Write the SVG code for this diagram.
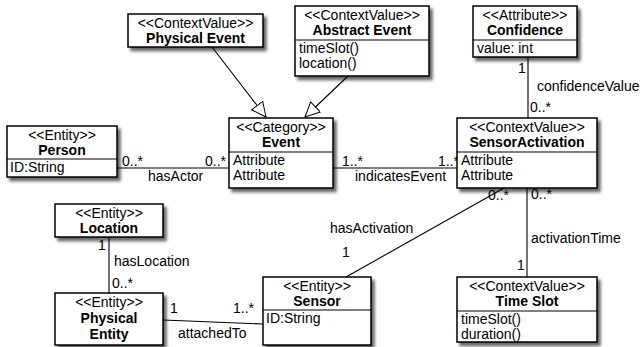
<svg xmlns="http://www.w3.org/2000/svg" width="642" height="347" viewBox="0 0 642 347">
  <defs>
    <filter id="shadow" x="-10%" y="-10%" width="130%" height="140%">
      <feDropShadow dx="3" dy="3.5" stdDeviation="1.8" flood-color="#000" flood-opacity="0.6"/>
    </filter>
    <marker id="gen" markerUnits="userSpaceOnUse" markerWidth="17" markerHeight="17" refX="15" refY="7.5" orient="auto">
      <path d="M0.5,0.5 L15,7.5 L0.5,14.5 Z" fill="#fff" stroke="#000" stroke-width="1"/>
    </marker>
  </defs>
  <style>
    text { font-family: "Liberation Sans", Arial, Helvetica, sans-serif; font-size: 14px; fill: #000; }
    .c { text-anchor: middle; }
    .b { font-weight: bold; }
    .box { fill: #fff; stroke: #000; stroke-width: 1.5; }
    .div { stroke: #000; stroke-width: 1.2; }
    .ln { stroke: #000; stroke-width: 1.1; fill: none; }
  </style>

  <!-- associations and generalizations -->
  <g id="connectors">
    <line class="ln" x1="212" y1="47" x2="266" y2="117" marker-end="url(#gen)"/>
    <line class="ln" x1="348" y1="76" x2="305" y2="117" marker-end="url(#gen)"/>
    <line class="ln" x1="117" y1="168" x2="229" y2="168"/>
    <line class="ln" x1="333" y1="168" x2="457" y2="168"/>
    <line class="ln" x1="528" y1="57" x2="528" y2="118"/>
    <line class="ln" x1="527" y1="188" x2="527" y2="277"/>
    <line class="ln" x1="346" y1="277" x2="504" y2="188"/>
    <line class="ln" x1="109" y1="237" x2="109" y2="293"/>
    <line class="ln" x1="163" y1="320" x2="263" y2="324"/>

    <text x="122" y="166">0..*</text>
    <text x="205" y="166">0..*</text>
    <text x="148" y="181">hasActor</text>

    <text x="342" y="166">1..*</text>
    <text x="438" y="166">1..*</text>
    <text x="355" y="181">indicatesEvent</text>

    <text x="518" y="73">1</text>
    <text x="537" y="91">confidenceValue</text>
    <text x="530" y="112">0..*</text>

    <text x="488" y="200">0..*</text>
    <text x="330" y="233">hasActivation</text>
    <text x="342" y="257">1</text>

    <text x="531" y="199">0..*</text>
    <text x="531" y="243">activationTime</text>
    <text x="517" y="270">1</text>

    <text x="98" y="250">1</text>
    <text x="114" y="266">hasLocation</text>
    <text x="112" y="288">0..*</text>

    <text x="170" y="313">1</text>
    <text x="233" y="313">1..*</text>
    <text x="178" y="338">attachedTo</text>
  </g>

  <g id="physical-event">
    <rect class="box" x="128" y="14" width="135" height="33" filter="url(#shadow)"/>
    <text class="c" x="195.5" y="28">&lt;&lt;ContextValue&gt;&gt;</text>
    <text class="c b" x="195.5" y="43">Physical Event</text>
  </g>

  <g id="abstract-event">
    <rect class="box" x="295" y="6" width="134" height="70" filter="url(#shadow)"/>
    <text class="c" x="362" y="20">&lt;&lt;ContextValue&gt;&gt;</text>
    <text class="c b" x="362" y="35">Abstract Event</text>
    <line class="div" x1="295" y1="40" x2="429" y2="40"/>
    <text x="299" y="53">timeSlot()</text>
    <text x="299" y="68">location()</text>
  </g>

  <g id="confidence">
    <rect class="box" x="473" y="6" width="104" height="51" filter="url(#shadow)"/>
    <text class="c" x="525" y="20">&lt;&lt;Attribute&gt;&gt;</text>
    <text class="c b" x="525" y="35">Confidence</text>
    <line class="div" x1="473" y1="40" x2="577" y2="40"/>
    <text x="477" y="53">value: int</text>
  </g>

  <g id="person">
    <rect class="box" x="7" y="126" width="110" height="51" filter="url(#shadow)"/>
    <text class="c" x="62" y="140">&lt;&lt;Entity&gt;&gt;</text>
    <text class="c b" x="62" y="155">Person</text>
    <line class="div" x1="7" y1="159" x2="117" y2="159"/>
    <text x="10" y="172">ID:String</text>
  </g>

  <g id="event">
    <rect class="box" x="229" y="118" width="104" height="70" filter="url(#shadow)"/>
    <text class="c" x="281" y="132">&lt;&lt;Category&gt;&gt;</text>
    <text class="c b" x="281" y="147">Event</text>
    <line class="div" x1="229" y1="152" x2="333" y2="152"/>
    <text x="233" y="165">Attribute</text>
    <text x="233" y="180">Attribute</text>
  </g>

  <g id="sensor-activation">
    <rect class="box" x="457" y="118" width="140" height="70" filter="url(#shadow)"/>
    <text class="c" x="527" y="132">&lt;&lt;ContextValue&gt;&gt;</text>
    <text class="c b" x="527" y="147">SensorActivation</text>
    <line class="div" x1="457" y1="152" x2="597" y2="152"/>
    <text x="461" y="165">Attribute</text>
    <text x="461" y="180">Attribute</text>
  </g>

  <g id="location">
    <rect class="box" x="55" y="204" width="108" height="33" filter="url(#shadow)"/>
    <text class="c" x="109" y="218">&lt;&lt;Entity&gt;&gt;</text>
    <text class="c b" x="109" y="233">Location</text>
  </g>

  <g id="physical-entity">
    <rect class="box" x="55" y="293" width="108" height="52" filter="url(#shadow)"/>
    <text class="c" x="109" y="307">&lt;&lt;Entity&gt;&gt;</text>
    <text class="c b" x="109" y="323">Physical</text>
    <text class="c b" x="109" y="339">Entity</text>
  </g>

  <g id="sensor">
    <rect class="box" x="263" y="277" width="108" height="68" filter="url(#shadow)"/>
    <text class="c" x="317" y="291">&lt;&lt;Entity&gt;&gt;</text>
    <text class="c b" x="317" y="306">Sensor</text>
    <line class="div" x1="263" y1="310" x2="371" y2="310"/>
    <text x="266" y="323">ID:String</text>
  </g>

  <g id="time-slot">
    <rect class="box" x="457" y="277" width="140" height="65" filter="url(#shadow)"/>
    <text class="c" x="527" y="291">&lt;&lt;ContextValue&gt;&gt;</text>
    <text class="c b" x="527" y="306">Time Slot</text>
    <line class="div" x1="457" y1="311" x2="597" y2="311"/>
    <text x="461" y="324">timeSlot()</text>
    <text x="461" y="339">duration()</text>
  </g>
</svg>
